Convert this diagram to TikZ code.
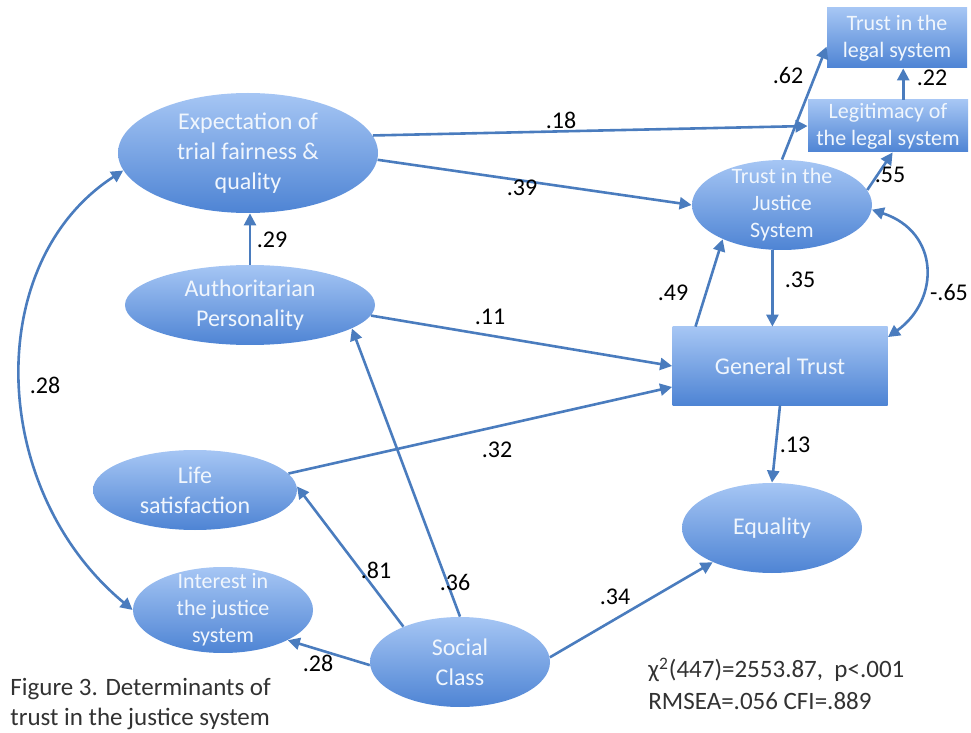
\documentclass[tikz,border=0pt]{standalone}
\usepackage{fontspec}
\setmainfont{Carlito}
\usetikzlibrary{shapes.geometric,arrows.meta}
\definecolor{nodetop}{RGB}{166,198,244}
\definecolor{nodebot}{RGB}{78,132,212}
\definecolor{linkblue}{RGB}{74,124,190}
\definecolor{nodetext}{RGB}{240,246,253}
\definecolor{notetext}{RGB}{50,50,50}

\begin{document}
\begin{tikzpicture}[x=0.5pt, y=-0.5pt, >={Triangle[length=6pt,width=6pt]},
    latent/.style={ellipse, top color=nodetop, bottom color=nodebot, text=nodetext,
        align=center, inner sep=-4pt, font=\fontsize{12}{15}\selectfont},
    observed/.style={rectangle, top color=nodetop, bottom color=nodebot, text=nodetext,
        align=center, inner sep=0pt, font=\fontsize{12}{15}\selectfont},
    smalltext/.style={font=\fontsize{11}{13.5}\selectfont},
    link/.style={draw=linkblue, line width=1.3pt, ->},
    coef/.style={font=\fontsize{12}{14}\selectfont, text=black, inner sep=1pt},
    note/.style={font=\fontsize{12.5}{15}\selectfont, text=notetext, align=left, inner sep=0pt}]
    \useasboundingbox (0,0) rectangle (971,733);
    \node[latent, minimum width=130pt, minimum height=60pt] (exp) at (248,153) {Expectation of\\trial fairness \&\\quality};
    \node[latent, minimum width=125pt, minimum height=40pt] (auth) at (250,305) {Authoritarian\\Personality};
    \node[latent, minimum width=102pt, minimum height=40pt] (life) at (195,490) {Life\\satisfaction};
    \node[latent, smalltext, minimum width=90pt, minimum height=43pt] (int) at (223,610) {Interest in\\the justice\\system};
    \node[latent, minimum width=90pt, minimum height=45pt] (soc) at (460,662) {Social\\Class};
    \node[latent, minimum width=90pt, minimum height=45pt] (eq) at (772,528) {Equality};
    \node[latent, smalltext, minimum width=90pt, minimum height=45pt] (tjs) at (782,205) {Trust in the\\Justice\\System};
    \node[observed, minimum width=107.5pt, minimum height=39pt] (gt) at (780,366) {General Trust};
    \node[observed, smalltext, minimum width=80pt, minimum height=26pt] (legit) at (888,126) {Legitimacy of\\the legal system};
    \node[observed, smalltext, minimum width=70pt, minimum height=30pt] (legal) at (897,38) {Trust in the\\legal system};

    \draw[link] (exp.8) -- (legit.west);
    \draw[link] (exp.-3) -- (tjs.west);
    \draw[link] (auth.north) -- (auth.north |- exp.south);
    \draw[link] (auth.-5) -- (gt.west);
    \draw[link] (life.10) -- (gt.191);
    \draw[link] (soc.148) -- (life.2);
    \draw[link] (soc.north) -- (auth.-13);
    \draw[link] (soc.182) -- (int.-25);
    \draw[link] (soc.3) -- (eq.210);
    \draw[link] (gt.155) -- (tjs.210);
    \draw[link] (tjs.258) -- (tjs.258 |- gt.north);
    \draw[link] (gt.south) -- (eq.north);
    \draw[link] (tjs.90) -- (legal.187);
    \draw[link] (legit.60) -- (legit.60 |- legal.south);
    \draw[link] (tjs.10) -- (legit.-80);
    \draw[link, <->] (tjs.-3) .. controls (940,232) and (940,300) .. (gt.15);
    \draw[link, <->] (exp.188) .. controls (-18,262) and (-12,490) .. (int.west);

    \node[coef] (c18) at (561,120) {.18};
    \node[coef] (c39) at (522,188) {.39};
    \node[coef] (c29) at (272,240) {.29};
    \node[coef] (c11) at (490,317) {.11};
    \node[coef] (c32) at (497,450) {.32};
    \node[coef] (c81) at (376,570) {.81};
    \node[coef] (c36) at (455,582) {.36};
    \node[coef] (c28a) at (45,385) {.28};
    \node[coef] (c28b) at (318,663) {.28};
    \node[coef] (c34) at (615,597) {.34};
    \node[coef] (c49) at (673,293) {.49};
    \node[coef] (c35) at (800,280) {.35};
    \node[coef] (c13) at (795,445) {.13};
    \node[coef] (c65) at (949,292) {-.65};
    \node[coef] (c62) at (788,75) {.62};
    \node[coef] (c22) at (932,78) {.22};
    \node[coef] (c55) at (890,175) {.55};

    \node[note, anchor=west] (caption) at (10,704) {Figure 3. Determinants of\\trust in the justice system};
    \node[note, anchor=west, font=\fontsize{12.5}{16}\selectfont] (fit) at (648,684) {χ\textsuperscript{2}(447)=2553.87,\ \ p<.001\\RMSEA=.056 CFI=.889};
\end{tikzpicture}
\end{document}
